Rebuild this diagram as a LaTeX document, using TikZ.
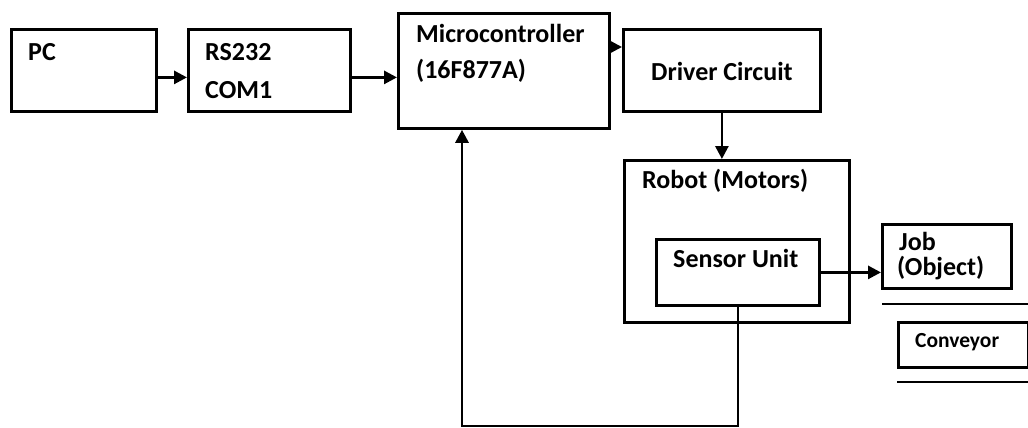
\documentclass[tikz,border=0pt]{standalone}
\usepackage{fontspec}
\setmainfont{Carlito}
\usetikzlibrary{arrows.meta,calc}
\begin{document}
\begin{tikzpicture}[x=1pt,y=-1pt,
  box/.style={draw,line width=2.8pt,minimum width=#1,inner sep=0pt,anchor=north west},
  lbl/.style={anchor=base west,inner sep=0pt,font=\bfseries\fontsize{26}{30}\selectfont},
  small/.style={anchor=base west,inner sep=0pt,font=\bfseries\fontsize{21.5}{24}\selectfont},
  arr/.style={line width=2.8pt,-{Triangle[length=13pt,width=13pt]}},
  wire/.style={line width=2.8pt}]
\useasboundingbox (0,0) rectangle (1028,428);
% blocks
\node[box=145pt,minimum height=82pt]  (pc)  at (10,28)  {};
\node[box=162pt,minimum height=82pt]  (rs)  at (187,28) {};
\node[box=211pt,minimum height=115pt] (mc)  at (397,12) {};
\node[box=197pt,minimum height=82pt]  (drv) at (622,28) {};
\node[box=225pt,minimum height=162pt] (rob) at (623,159) {};
\node[box=163pt,minimum height=66pt]  (sen) at (655,238) {};
\node[box=129pt,minimum height=64pt]  (job) at (881,223) {};
\node[box=130pt,minimum height=45pt]  (cnv) at (897,321) {};
% labels
\node[lbl] (tpc)  at (28,60)  {PC};
\node[lbl] (trs1) at (205,61) {RS232};
\node[lbl] (trs2) at (205,98) {COM1};
\node[lbl] (tmc1) at (416,43) {Microcontroller};
\node[lbl] (tmc2) at (416,78) {(16F877A)};
\node[lbl] (tdrv) at (651,81) {Driver Circuit};
\node[lbl] (trob) at (642,188) {Robot (Motors)};
\node[lbl] (tsen) at (673,267) {Sensor Unit};
\node[lbl] (tjob1) at (899,250) {Job};
\node[lbl] (tjob2) at (897,275) {(Object)};
\node[small] (tcnv) at (915,347) {Conveyor};
% conveyor rails
\coordinate (r1a) at (882,304);
\coordinate (r1b) at (1028,304);
\coordinate (r2a) at (897,382);
\coordinate (r2b) at (1028,382);
\draw[wire] (r1a) -- (r1b);
\draw[wire] (r2a) -- (r2b);
% signal flow
\coordinate (a1) at ([yshift=-7pt]pc.east);
\draw[arr] (a1) -- (a1 -| rs.west);
\coordinate (a2) at ([yshift=-7pt]rs.east);
\draw[arr] (a2) -- (a2 -| mc.west);
\coordinate (a3) at (608,47);
\draw[arr] (a3) -- (a3 -| drv.west);
\draw[arr] (drv.south) -- (drv.south |- rob.north);
\draw[arr] (sen.east) -- (sen.east -| job.west);
% feedback from the sensor unit
\coordinate (fbR) at (737,426);
\coordinate (fbL) at (462,426);
\draw[arr] (sen.south) -- (sen.south |- fbR) -- (fbL) -- (fbL |- mc.south);
\end{tikzpicture}
\end{document}
